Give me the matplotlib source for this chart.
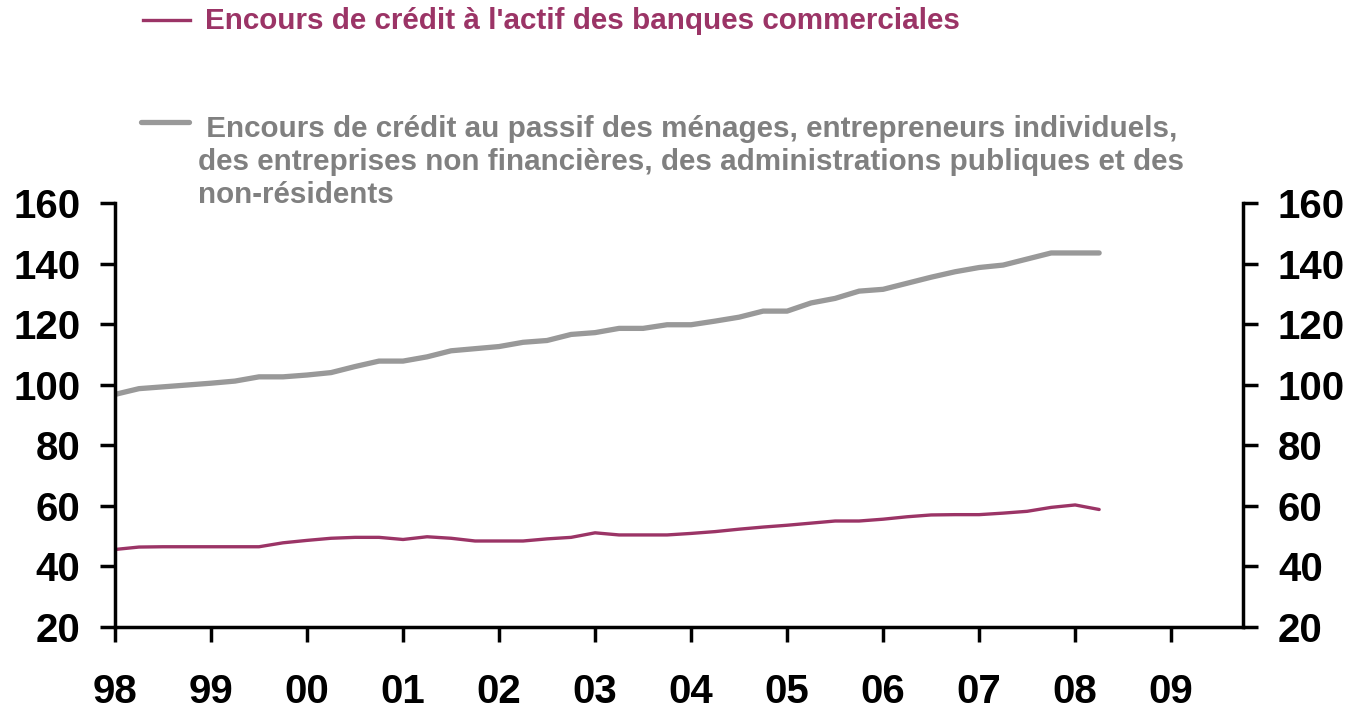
import matplotlib
matplotlib.use("Agg")
import matplotlib.pyplot as plt
from matplotlib.lines import Line2D
import numpy as np

plt.rcParams['font.family'] = ['Liberation Sans', 'DejaVu Sans']

# quarterly data, 1998Q1 .. 2008Q2
start_year = 1998
actif = [45.6, 46.4, 46.5, 46.5, 46.5, 46.5, 46.5, 47.8, 48.6, 49.3,
         49.6, 49.6, 48.9, 49.8, 49.3, 48.4, 48.4, 48.4, 49.1, 49.6,
         51.1, 50.4, 50.4, 50.4, 50.9, 51.5, 52.3, 53.0, 53.6, 54.3,
         55.0, 55.0, 55.6, 56.4, 57.0, 57.1, 57.1, 57.6, 58.2, 59.5,
         60.3, 58.8]
passif = [96.8, 98.7, 99.3, 99.9, 100.5, 101.2, 102.6, 102.6, 103.2, 104.0,
          106.0, 107.8, 107.8, 109.2, 111.2, 111.9, 112.6, 114.0, 114.6, 116.6,
          117.2, 118.6, 118.6, 119.8, 119.8, 121.0, 122.3, 124.3, 124.3, 127.0,
          128.5, 130.9, 131.5, 133.5, 135.5, 137.3, 138.7, 139.5, 141.5, 143.5,
          143.5, 143.5]
year_ticks = list(range(1998, 2010))
year_labels = ['98', '99', '00', '01', '02', '03', '04', '05', '06', '07', '08', '09']
y_ticks = [20, 40, 60, 80, 100, 120, 140, 160]

label_actif = "Encours de crédit à l'actif des banques commerciales"
label_passif = (" Encours de crédit au passif des ménages, entrepreneurs individuels,\n"
                "des entreprises non financières, des administrations publiques et des\n"
                "non-résidents")

purple = '#9b3466'
grey_line = '#999999'
grey_text = '#808080'

x = start_year + np.arange(len(actif)) / 4.0

fig = plt.figure(figsize=(13.56, 7.13), dpi=100)
ax = fig.add_axes([0.0848, 0.1206, 0.832, 0.5947])

ax.plot(x, passif, color=grey_line, lw=3.8, solid_capstyle='round')
ax.plot(x, actif, color=purple, lw=2.4, solid_capstyle='round')

ax.set_xlim(1998, 2009.75)
ax.set_ylim(20, 160)
ax.set_yticks(y_ticks)
ax.set_xticks(year_ticks)
ax.set_xticklabels(year_labels)

for s in ['top', 'right']:
    ax.spines[s].set_visible(False)
for s in ['left', 'bottom']:
    ax.spines[s].set_linewidth(2.5)

ax.tick_params(axis='y', direction='out', length=11, width=2.5, pad=14,
               labelsize=29)
ax.tick_params(axis='x', direction='out', length=11, width=2.5, pad=22,
               labelsize=29)
for lab in ax.get_xticklabels() + ax.get_yticklabels():
    lab.set_fontweight('bold')

ax2 = ax.twinx()
ax2.set_ylim(20, 160)
ax2.set_yticks(y_ticks)
for s in ['top', 'left', 'bottom']:
    ax2.spines[s].set_visible(False)
ax2.spines['right'].set_linewidth(2.5)
ax2.tick_params(axis='y', direction='out', length=11, width=2.5, pad=14,
                labelsize=29)
for lab in ax2.get_yticklabels():
    lab.set_fontweight('bold')

# legend drawn by hand at the top
W, H = 1356.0, 713.0
fig.add_artist(Line2D([143 / W, 190 / W], [1 - 20 / H, 1 - 20 / H],
                      color=purple, lw=2.4, transform=fig.transFigure))
fig.text(205 / W, 1 - 21 / H, label_actif, color=purple, fontsize=21.3,
         fontweight='bold', va='center', ha='left')

fig.add_artist(Line2D([141 / W, 189 / W], [1 - 122 / H, 1 - 122 / H],
                      color=grey_line, lw=3.8, solid_capstyle='round',
                      transform=fig.transFigure))
fig.text(198 / W, 1 - 115 / H, label_passif, color=grey_text, fontsize=21.3,
         fontweight='bold', va='top', ha='left', linespacing=1.22)

fig.savefig('out.png', dpi=100)
